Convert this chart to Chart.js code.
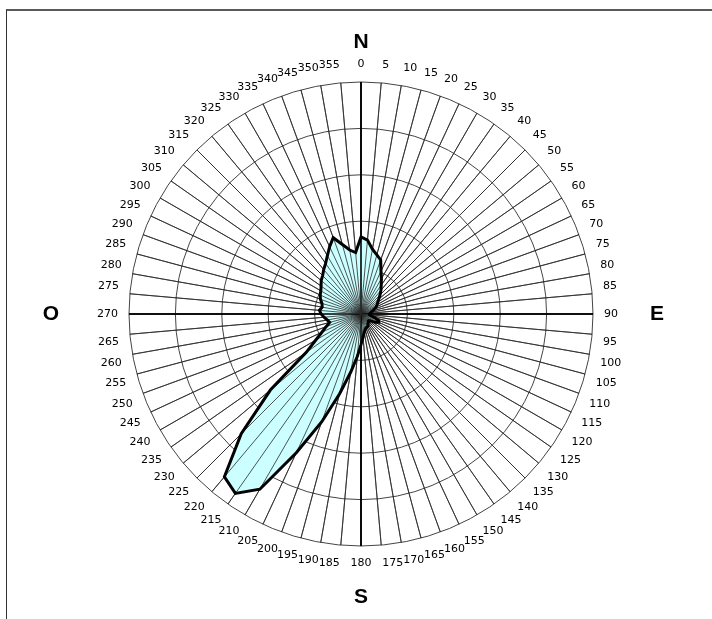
<!DOCTYPE html>
<html>
<head>
<meta charset="utf-8">
<script src="https://cdn.jsdelivr.net/npm/chart.js@4"></script>
<style>
    html, body { margin: 0; padding: 0; background: #fff; }
    #wrap { position: relative; width: 712px; height: 619px; overflow: hidden; }
    #frame { position: absolute; left: 6px; top: 9px; right: -5px; bottom: -5px;
             border-top: 2px solid #5a5a5a; border-left: 1px solid #333; }
    #chart_canvas { position: absolute; left: 0; top: 0; }
</style>
</head>
<body>
<div id="wrap">
    <div id="frame"></div>
    <canvas id="chart_canvas" width="712" height="619"></canvas>
</div>
<script>
// wind directions, every 5 degrees
const directions = [];
for (let d = 0; d < 360; d += 5) directions.push(String(d));

// values (one ring = 1)
const windValues = [
    1.66, 1.60, 1.42, 1.32, 1.24, 1.02, 0.88, 0.76, 0.67, 0.58, 0.50, 0.44,  // 0 - 55
    0.40, 0.36, 0.30, 0.26, 0.22, 0.20, 0.18, 0.18, 0.22, 0.30, 0.40, 0.42,  // 60 - 115
    0.36, 0.26, 0.22, 0.22, 0.24, 0.26, 0.30, 0.31, 0.32, 0.35, 0.40, 0.50,  // 120 - 175
    0.66, 0.92, 1.27, 1.78, 2.47, 3.30, 4.36, 4.72, 4.58, 3.65, 2.55, 1.44,  // 180 - 235
    1.13, 0.93, 0.80, 0.70, 0.74, 0.80, 0.86, 0.90, 0.85, 0.87, 0.93, 0.97,  // 240 - 295
    1.00, 1.05, 1.12, 1.17, 1.25, 1.33, 1.45, 1.60, 1.75, 1.55, 1.40, 1.33   // 300 - 355
];

const ringMax = 5;
const compassLetters = ['N', 'E', 'S', 'O'];

const CHART_CANVAS = document.getElementById("chart_canvas");

const spokeColor = (ctx) => ctx.index % 18 === 0 ? '#000' : '#2a2a2a';
const spokeWidth = (ctx) => ctx.index % 18 === 0 ? 1.6 : 0.8;

// Excel draws the spokes over the filled area, the rings under it
const spokesOverFill = {
    id: 'spokesOverFill',
    afterDatasetDraw(chart, args) {
        if (args.index !== 1) return;
        const scale = chart.scales.r;
        const ctx = chart.ctx;
        ctx.save();
        for (let i = 0; i < directions.length; i++) {
            const p = scale.getPointPosition(i, scale.drawingArea);
            ctx.beginPath();
            ctx.strokeStyle = spokeColor({ index: i });
            ctx.lineWidth = spokeWidth({ index: i });
            ctx.moveTo(scale.xCenter, scale.yCenter);
            ctx.lineTo(p.x, p.y);
            ctx.stroke();
        }
        ctx.restore();
    }
};

const compassPlugin = {
    id: 'compassPlugin',
    afterDraw(chart) {
        const scale = chart.scales.r;
        const ctx = chart.ctx;
        const r = scale.drawingArea;
        const cx = scale.xCenter, cy = scale.yCenter;
        const spots = [[0, -r - 40], [r + 64, 0], [0, r + 51], [-r - 78, 0]];
        ctx.save();
        ctx.font = 'bold 21px "Liberation Sans", Arial, sans-serif';
        ctx.fillStyle = '#000';
        ctx.textAlign = 'center';
        ctx.textBaseline = 'middle';
        compassLetters.forEach((t, i) => ctx.fillText(t, cx + spots[i][0], cy + spots[i][1]));
        ctx.restore();
    }
};

const data = {
    labels: directions,
    datasets: [
        {
            label: 'outline',
            data: windValues,
            fill: false,
            borderColor: '#000',
            borderWidth: 3,
            borderJoinStyle: 'miter',
            pointRadius: 0,
            tension: 0,
        },
        {
            label: 'fill',
            data: windValues,
            fill: true,
            backgroundColor: '#ccffff',
            borderWidth: 0,
            pointRadius: 0,
            tension: 0,
        },
    ]
};

const config = {
    type: 'radar',
    data: data,
    options: {
        responsive: false,
        animation: false,
        layout: {
            padding: { left: 96, right: 88, top: 51, bottom: 40 }
        },
        plugins: {
            legend: { display: false },
            tooltip: { enabled: false },
        },
        scales: {
            r: {
                min: 0,
                max: ringMax,
                ticks: { display: false, stepSize: 1 },
                grid: { circular: true, color: '#444', lineWidth: 1 },
                angleLines: { color: spokeColor, lineWidth: spokeWidth },
                pointLabels: {
                    padding: 11,
                    color: '#000',
                    font: { family: '"DejaVu Sans", Verdana, sans-serif', size: 11 },
                },
            }
        },
    },
    plugins: [spokesOverFill, compassPlugin],
};

const myChart = new Chart(CHART_CANVAS, config);
</script>
</body>
</html>
